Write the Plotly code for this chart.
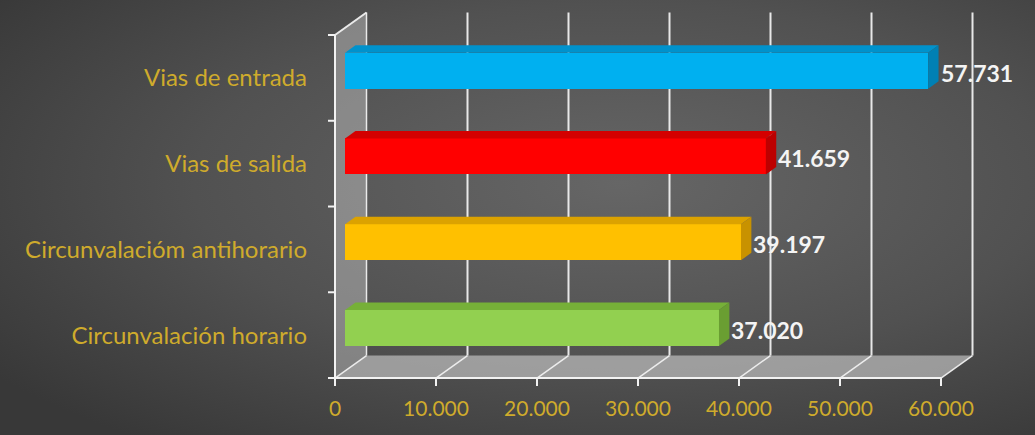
import base64
import plotly.graph_objects as go

# ---------------- data ----------------
categories = ["Circunvalación horario", "Circunvalacióm antihorario",
              "Vias de salida", "Vias de entrada"]
values = [37020, 39197, 41659, 57731]
value_labels = ["37.020", "39.197", "41.659", "57.731"]
x_ticks = [0, 10000, 20000, 30000, 40000, 50000, 60000]
x_tick_labels = ["0", "10.000", "20.000", "30.000", "40.000", "50.000", "60.000"]

# ---------------- style ----------------
front_colors = ["#92d050", "#ffc000", "#ff0000", "#00b0f0"]
top_colors = ["#76b038", "#dca200", "#d40000", "#0092cc"]
side_colors = ["#6a9e32", "#c89200", "#bc0000", "#0080b4"]
gold = "#cfab2c"
font_family = "Lato, 'Open Sans', sans-serif"

W, H = 1035, 435
ML, MR, MT, MB = 320, 54, 8, 43
X_RANGE = [-1485, 63960]
Y_RANGE = [-0.663, 3.815]
XMAX = 60000

DX = 3119      # depth of 3D box in x data units
DY = 0.262     # depth of 3D box in y data units
F = 0.32       # depth fraction of bar front face
BD = 0.33      # bar depth fraction
HW = 0.21      # bar half-height

px_per_x = (W - ML - MR) / (X_RANGE[1] - X_RANGE[0])
px_per_y = (H - MT - MB) / (Y_RANGE[1] - Y_RANGE[0])

fig = go.Figure()

# --- 3D faces of bars (top and side) ---
bdx, bdy = BD * DX, BD * DY
for i, v in enumerate(values):
    x0 = F * DX
    x1 = F * DX + v
    yc = i + F * DY
    yt, yb = yc + HW, yc - HW
    fig.add_trace(go.Scatter(
        x=[x0, x0 + bdx, x1 + bdx, x1, x0],
        y=[yt, yt + bdy, yt + bdy, yt, yt],
        fill="toself", fillcolor=top_colors[i], mode="lines",
        line=dict(width=0, color=top_colors[i]), hoverinfo="skip", showlegend=False))
    fig.add_trace(go.Scatter(
        x=[x1, x1, x1 + bdx, x1 + bdx, x1],
        y=[yb, yt, yt + bdy, yb + bdy, yb],
        fill="toself", fillcolor=side_colors[i], mode="lines",
        line=dict(width=0, color=side_colors[i]), hoverinfo="skip", showlegend=False))

# --- front faces of bars ---
fig.add_trace(go.Bar(
    x=values,
    y=[i + F * DY for i in range(len(values))],
    base=[F * DX] * len(values),
    orientation="h",
    width=2 * HW,
    marker=dict(color=front_colors, line=dict(width=0)),
    hoverinfo="skip", showlegend=False))

# --- value labels ---
for i, v in enumerate(values):
    fig.add_annotation(
        x=F * DX + v + bdx, y=i + F * DY, text=value_labels[i],
        xanchor="left", yanchor="middle", xshift=0, yshift=-2, showarrow=False,
        font=dict(family=font_family, size=23, color="#f4f4f4", weight="bold"))

shapes = []
y0f, y1f = -0.5, len(categories) - 0.5
# left wall
shapes.append(dict(type="path", layer="below", xref="x", yref="y",
                   path=f"M 0 {y0f} L 0 {y1f} L {DX} {y1f + DY} L {DX} {y0f + DY} Z",
                   fillcolor="rgba(200,200,200,0.45)", line=dict(width=0)))
# floor
shapes.append(dict(type="path", layer="below", xref="x", yref="y",
                   path=f"M 0 {y0f} L {XMAX} {y0f} L {XMAX + DX} {y0f + DY} L {DX} {y0f + DY} Z",
                   fillcolor="rgba(210,210,210,0.6)", line=dict(width=0)))
grid_color = "rgba(240,240,240,0.95)"
# back gridlines + floor diagonals
for t in x_ticks:
    if t > 0:
        shapes.append(dict(type="line", layer="below", xref="x", yref="y",
                           x0=t + DX, x1=t + DX, y0=y0f + DY, y1=y1f + DY,
                           line=dict(color=grid_color, width=2)))
    shapes.append(dict(type="line", layer="below", xref="x", yref="y",
                       x0=t, x1=t + DX, y0=y0f, y1=y0f + DY,
                       line=dict(color=grid_color, width=1.5)))
# back wall vertical edge and top edge of wall
shapes.append(dict(type="line", layer="below", xref="x", yref="y",
                   x0=DX, x1=DX, y0=y0f + DY, y1=y1f + DY,
                   line=dict(color=grid_color, width=1.5)))
shapes.append(dict(type="line", layer="below", xref="x", yref="y",
                   x0=0, x1=DX, y0=y1f, y1=y1f + DY,
                   line=dict(color=grid_color, width=2)))
# front axes
shapes.append(dict(type="line", xref="x", yref="y", x0=0, x1=0, y0=y0f, y1=y1f,
                   line=dict(color="#f2f2f2", width=2)))
shapes.append(dict(type="line", xref="x", yref="y", x0=0, x1=XMAX, y0=y0f, y1=y0f,
                   line=dict(color="#f2f2f2", width=2)))
tick_dx = 7 / px_per_x
tick_dy = 8 / px_per_y
for k in range(len(categories) + 1):
    yk = k - 0.5
    shapes.append(dict(type="line", xref="x", yref="y", x0=-tick_dx, x1=0, y0=yk, y1=yk,
                       line=dict(color="#f2f2f2", width=2)))
for t in x_ticks:
    shapes.append(dict(type="line", xref="x", yref="y", x0=t, x1=t, y0=y0f, y1=y0f - tick_dy,
                       line=dict(color="#f2f2f2", width=2)))

# background radial gradient
svg = (f'<svg xmlns="http://www.w3.org/2000/svg" width="{W}" height="{H}">'
       '<defs><radialGradient id="g" cx="0.6" cy="0.42" r="0.75" '
       f'gradientUnits="objectBoundingBox">'
       '<stop offset="0" stop-color="#666666"/>'
       '<stop offset="0.55" stop-color="#515151"/>'
       '<stop offset="1" stop-color="#383838"/></radialGradient></defs>'
       f'<rect width="{W}" height="{H}" fill="url(#g)"/></svg>')
src = "data:image/svg+xml;base64," + base64.b64encode(svg.encode()).decode()
pw, ph = W - ML - MR, H - MT - MB

fig.update_layout(
    width=W, height=H,
    margin=dict(l=ML, r=MR, t=MT, b=MB, pad=0),
    paper_bgcolor="#474747",
    plot_bgcolor="rgba(0,0,0,0)",
    shapes=shapes,
    images=[dict(source=src, xref="paper", yref="paper",
                 x=-ML / pw, y=1 + MT / ph, sizex=W / pw, sizey=H / ph,
                 xanchor="left", yanchor="top", sizing="stretch", layer="below")],
    xaxis=dict(range=X_RANGE, showgrid=False, zeroline=False, showline=False,
               tickvals=x_ticks, ticktext=x_tick_labels, ticks="",
               tickfont=dict(family=font_family, size=21, color=gold),
               ticklabelstandoff=2, fixedrange=True),
    yaxis=dict(range=Y_RANGE, showgrid=False, zeroline=False, showline=False,
               tickvals=list(range(len(categories))), ticktext=categories, ticks="",
               tickfont=dict(family=font_family, size=24, color=gold),
               ticklabelstandoff=12, fixedrange=True),
    bargap=0,
    showlegend=False,
)

fig.write_html("out.html")
